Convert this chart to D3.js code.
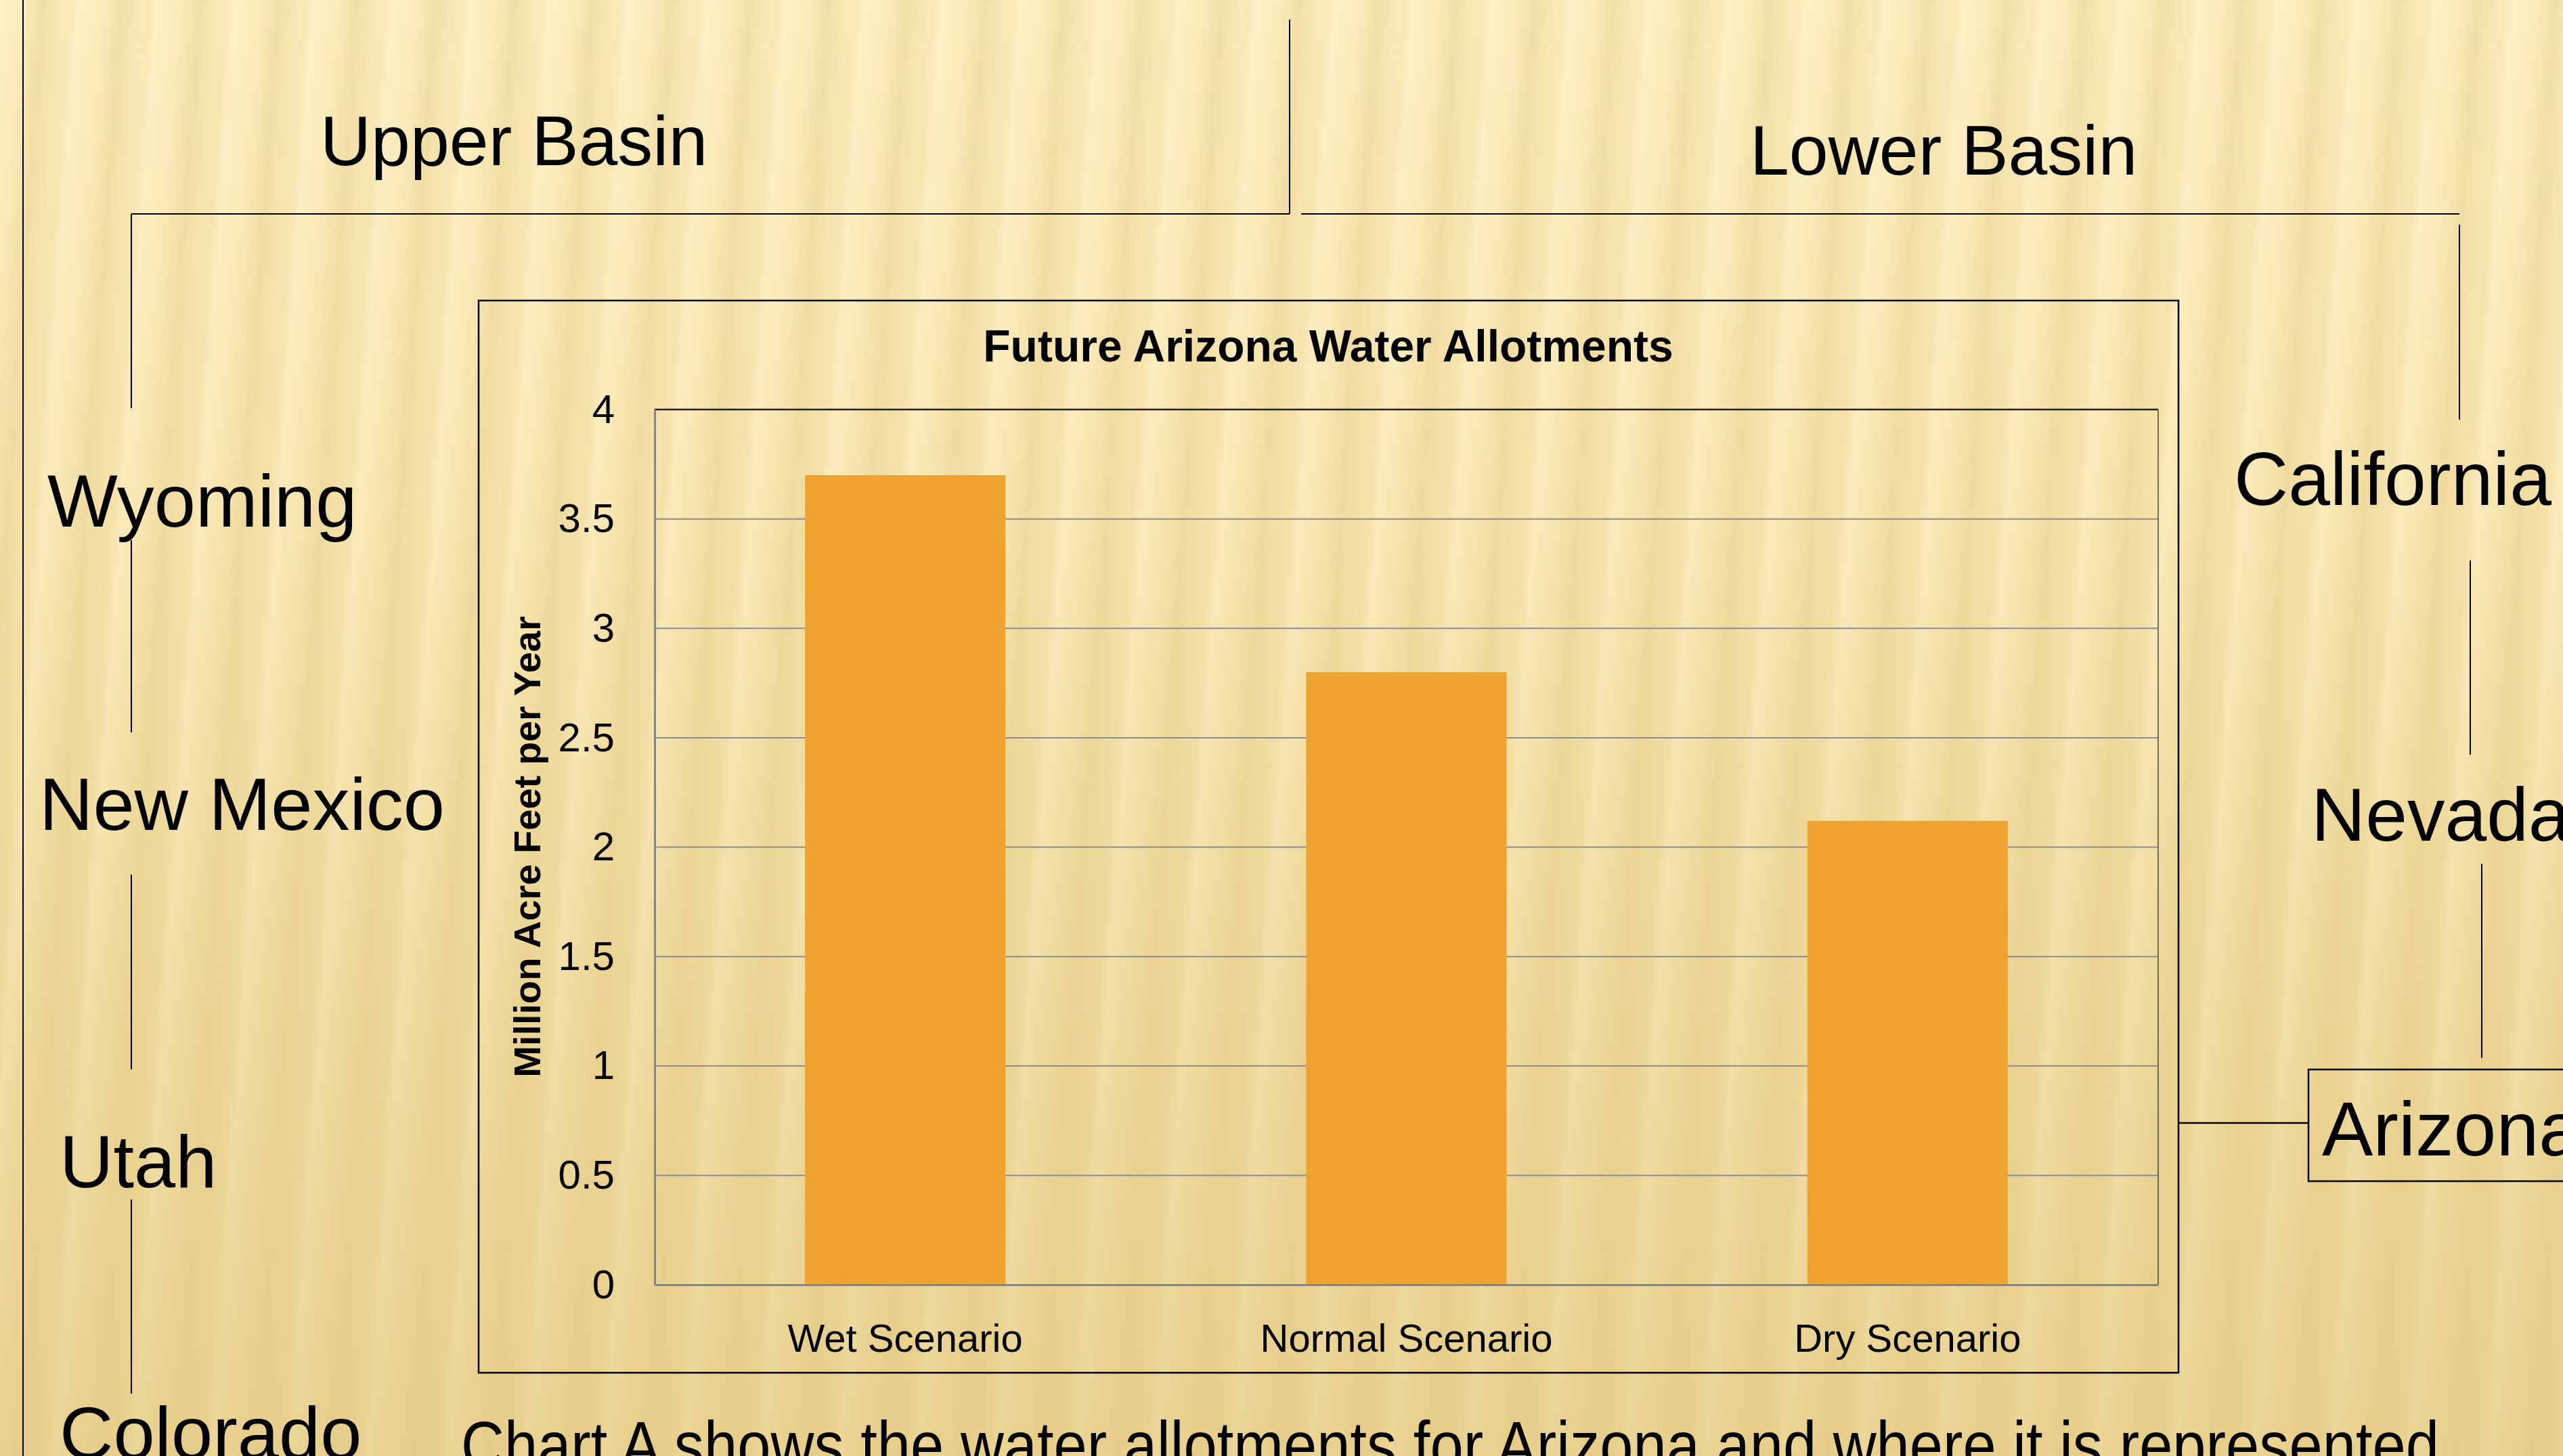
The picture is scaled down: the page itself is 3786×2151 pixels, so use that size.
<!DOCTYPE html>
<html>
<head>
<meta charset="utf-8">
<script src="https://cdn.jsdelivr.net/npm/d3@7"></script>
<style>
  html, body { margin: 0; padding: 0; overflow: hidden; background: #efdca3; }
  svg { display: block; font-family: "Liberation Sans", Arial, sans-serif; }
</style>
</head>
<body>
<div id="chart"></div>
<script>
const W = 3786, H = 2151;

// chart data
const scenarios = ["Wet Scenario", "Normal Scenario", "Dry Scenario"];
const allotments = [3.70, 2.80, 2.12];
const yTicks = [0, 0.5, 1, 1.5, 2, 2.5, 3, 3.5, 4];
const chartTitle = "Future Arizona Water Allotments";
const yTitle = "Million Acre Feet per Year";

// diagram text
const basins = ["Upper Basin", "Lower Basin"];
const upperStates = ["Wyoming", "New Mexico", "Utah", "Colorado"];
const lowerStates = ["California", "Nevada", "Arizona"];
const caption = "Chart A shows the water allotments for Arizona and where it is represented";

const svg = d3.select("#chart").append("svg")
  .attr("width", W)
  .attr("height", H);

// gold striped background
const defs = svg.append("defs");
const base = defs.append("linearGradient").attr("id", "base")
  .attr("x1", 0).attr("y1", 0).attr("x2", 0).attr("y2", 1);
[["0%", "#fbecbb"], ["35%", "#f6e3ab"], ["70%", "#ecd696"], ["100%", "#e7cf8b"]]
  .forEach(s => base.append("stop").attr("offset", s[0]).attr("stop-color", s[1]));

const stripes = defs.append("linearGradient").attr("id", "stripes")
  .attr("gradientUnits", "userSpaceOnUse")
  .attr("x1", 0).attr("y1", 0).attr("x2", 116).attr("y2", 0)
  .attr("spreadMethod", "repeat")
  .attr("gradientTransform", "skewX(-4)");
[["0%", "#fff6d4", 0.5], ["25%", "#fff2c8", 0.2], ["55%", "#dcc179", 0.3], ["80%", "#ead293", 0.1], ["100%", "#fff6d4", 0.5]]
  .forEach(s => stripes.append("stop").attr("offset", s[0]).attr("stop-color", s[1]).attr("stop-opacity", s[2]));

const fade = defs.append("linearGradient").attr("id", "fade")
  .attr("x1", 0).attr("y1", 0).attr("x2", 0).attr("y2", 1);
[["0%", 1], ["45%", 0.8], ["100%", 0.35]]
  .forEach(s => fade.append("stop").attr("offset", s[0]).attr("stop-color", "#fff").attr("stop-opacity", s[1]));
defs.append("mask").attr("id", "fadeMask")
  .append("rect").attr("width", W).attr("height", H).attr("fill", "url(#fade)");

svg.append("rect").attr("width", W).attr("height", H).attr("fill", "url(#base)");
svg.append("rect").attr("width", W).attr("height", H).attr("fill", "url(#stripes)").attr("mask", "url(#fadeMask)");

// diagram lines
const ink = "#000";
const seg = (x1, y1, x2, y2, w) => svg.append("line")
  .attr("x1", x1).attr("y1", y1).attr("x2", x2).attr("y2", y2)
  .attr("stroke", ink).attr("stroke-width", w || 2);

seg(34, 0, 34, H);
seg(194, 316, 1905, 316);
seg(1905, 29, 1905, 316);
seg(1922, 316, 3633, 316);
seg(3633, 332, 3633, 620);
[[316, 603], [798, 1082], [1292, 1580], [1772, 2059]].forEach(s => seg(194, s[0], 194, s[1]));
seg(3649, 828, 3649, 1115);
seg(3666, 1276, 3666, 1563);
seg(3218, 1659, 3410, 1659, 2.5);
svg.append("rect").attr("x", 3410).attr("y", 1580).attr("width", 420).attr("height", 165)
  .attr("fill", "none").attr("stroke", ink).attr("stroke-width", 2.5);

// diagram text
const label = (t, x, y, size) => svg.append("text")
  .attr("x", x).attr("y", y).attr("font-size", size).attr("fill", ink).text(t);

label(basins[0], 473, 244, 104);
label(basins[1], 2585, 258, 104);
const upperPos = [[70, 778], [58, 1226], [88, 1754], [88, 2155]];
upperStates.forEach((s, i) => label(s, upperPos[i][0], upperPos[i][1], 110));
const lowerPos = [[3300, 746], [3414, 1242], [3430, 1707]];
lowerStates.forEach((s, i) => label(s, lowerPos[i][0], lowerPos[i][1], i === 2 ? 113 : 111));
label(caption, 681, 2170, 100).attr("textLength", 2922).attr("lengthAdjust", "spacingAndGlyphs");

// chart frame
svg.append("rect").attr("x", 707).attr("y", 444).attr("width", 2511).attr("height", 1584)
  .attr("fill", "none").attr("stroke", ink).attr("stroke-width", 2.5);

const plot = { left: 967, top: 605, right: 3188, bottom: 1898 };

const x = d3.scaleBand()
  .domain(scenarios)
  .range([plot.left, plot.right])
  .paddingInner(0.6)
  .paddingOuter(0.3);

const y = d3.scaleLinear().domain([0, 4]).range([plot.bottom, plot.top]);

// gridlines
svg.append("g")
  .selectAll("line")
  .data(yTicks.filter(d => d > 0 && d < 4))
  .join("line")
  .attr("x1", plot.left).attr("x2", plot.right)
  .attr("y1", d => y(d)).attr("y2", d => y(d))
  .attr("stroke", "#8b8b98").attr("stroke-width", 2);

// plot border
svg.append("line").attr("x1", plot.left).attr("x2", plot.right).attr("y1", y(4)).attr("y2", y(4))
  .attr("stroke", "#222").attr("stroke-width", 2.5);
svg.append("line").attr("x1", plot.right).attr("x2", plot.right).attr("y1", y(4)).attr("y2", y(0))
  .attr("stroke", "#444").attr("stroke-width", 1.5);

// bars
svg.append("g")
  .selectAll("rect")
  .data(scenarios)
  .join("rect")
  .attr("x", d => x(d))
  .attr("width", x.bandwidth())
  .attr("y", (d, i) => y(allotments[i]))
  .attr("height", (d, i) => y(0) - y(allotments[i]))
  .attr("fill", "#eea32e");

// axes
const yAxis = svg.append("g")
  .attr("transform", `translate(${plot.left},0)`)
  .call(d3.axisLeft(y).tickValues(yTicks).tickSize(0).tickPadding(59).tickFormat(d3.format("~g")));
yAxis.select(".domain").attr("stroke", "#858585").attr("stroke-width", 3);
yAxis.selectAll("text").attr("font-size", 60).attr("fill", ink)
  .attr("font-family", "'Liberation Sans', Arial, sans-serif");

const xAxis = svg.append("g")
  .attr("transform", `translate(0,${plot.bottom})`)
  .call(d3.axisBottom(x).tickSize(0).tickPadding(0));
xAxis.select(".domain").attr("stroke", "#858585").attr("stroke-width", 3);
xAxis.selectAll("text").attr("font-size", 58).attr("fill", ink)
  .attr("font-family", "'Liberation Sans', Arial, sans-serif")
  .attr("dy", null).attr("y", 99);

// titles
svg.append("text")
  .attr("x", 1962).attr("y", 534)
  .attr("text-anchor", "middle")
  .attr("font-size", 66).attr("font-weight", "bold")
  .text(chartTitle);

svg.append("text")
  .attr("transform", "translate(798,1251) rotate(-90)")
  .attr("text-anchor", "middle")
  .attr("font-size", 56).attr("font-weight", "bold")
  .text(yTitle);
</script>
</body>
</html>
